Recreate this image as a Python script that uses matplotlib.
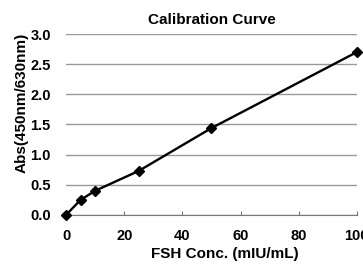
import matplotlib.pyplot as plt

conc = [0, 5, 10, 25, 50, 100]
absorb = [0.0, 0.25, 0.40, 0.73, 1.44, 2.70]
yticks = [0.0, 0.5, 1.0, 1.5, 2.0, 2.5, 3.0]
xticks = [0, 20, 40, 60, 80, 100]

plt.rcParams['font.family'] = ['Liberation Sans', 'DejaVu Sans']

fig = plt.figure(figsize=(3.63, 2.70), dpi=100)
ax = fig.add_axes([0.182, 0.204, 0.801, 0.670])

ax.plot(conc, absorb, color='black', lw=1.7, marker='D', ms=5.5, zorder=3, clip_on=False)

ax.set_xlim(0, 100)
ax.set_ylim(0, 3.0)
ax.set_xticks(xticks)
ax.set_yticks(yticks)
ax.set_yticklabels([f"{v:.1f}" for v in yticks])
ax.grid(axis='y', color='#999999', lw=1.0)
ax.set_axisbelow(True)

for s in ['top', 'right', 'left']:
    ax.spines[s].set_visible(False)
ax.spines['bottom'].set_color('#777777')
ax.tick_params(axis='x', direction='in', length=3, color='#777777', labelsize=10.5, pad=10)
ax.tick_params(axis='y', length=0, labelsize=10.5, pad=11)
for lab in ax.get_xticklabels() + ax.get_yticklabels():
    lab.set_fontweight('bold')

ax.set_title("Calibration Curve", fontsize=11, fontweight='bold', pad=7)
ax.set_xlabel("FSH Conc. (mIU/mL)", fontsize=11, fontweight='bold')
ax.xaxis.set_label_coords(0.546, -0.18)
ax.set_ylabel("Abs(450nm/630nm)", fontsize=11, fontweight='bold')
ax.yaxis.set_label_coords(-0.13, 0.62)

fig.savefig("out.png", dpi=100)
